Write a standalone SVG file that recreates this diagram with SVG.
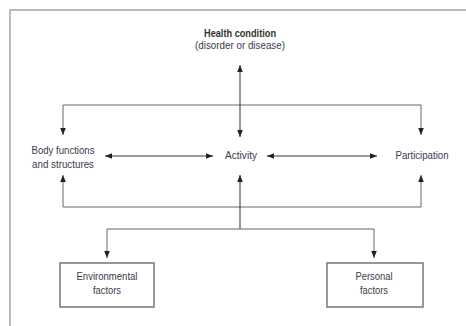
<svg xmlns="http://www.w3.org/2000/svg" width="466" height="326" viewBox="0 0 466 326">
<style>
.t{font-family:"Liberation Sans",Arial,sans-serif;font-size:10.5px;fill:#3a3a4c;text-anchor:middle}
.b{font-weight:bold;fill:#333}
.c{fill:none;stroke:#333;stroke-width:1}
.g{fill:none;stroke:#666;stroke-width:1}
.box{fill:#fff;stroke:#777;stroke-width:1.5}
</style>
<defs>
<marker id="ah" viewBox="0 0 10 10" refX="10" refY="5" markerWidth="8" markerHeight="7" markerUnits="userSpaceOnUse" orient="auto-start-reverse">
<path d="M0,1 L10,5 L0,9 z" fill="#222"/>
</marker>
</defs>
<rect x="0" y="0" width="466" height="326" fill="#fff"/>
<path d="M10,330 V10 H470" fill="none" stroke="#bbb" stroke-width="2"/>
<g id="connectors">
<path class="g" d="M63,135 V105 H421 V135" marker-start="url(#ah)" marker-end="url(#ah)"/>
<path class="c" d="M240,65 V137" marker-start="url(#ah)" marker-end="url(#ah)"/>
<path class="c" d="M105,156 H213" marker-start="url(#ah)" marker-end="url(#ah)"/>
<path class="c" d="M267,156 H377" marker-start="url(#ah)" marker-end="url(#ah)"/>
<path class="g" d="M63,175 V207 H421 V175" marker-start="url(#ah)" marker-end="url(#ah)"/>
<path class="c" d="M240,175 V229" marker-start="url(#ah)"/>
<path class="g" d="M107,258 V229 H374 V258" marker-start="url(#ah)" marker-end="url(#ah)"/>
</g>
<g id="health">
<text class="t b" x="240" y="37" textLength="72" lengthAdjust="spacingAndGlyphs">Health condition</text>
<text class="t" x="240" y="49" textLength="90" lengthAdjust="spacingAndGlyphs">(disorder or disease)</text>
</g>
<g id="body">
<text class="t" x="63" y="154" textLength="63" lengthAdjust="spacingAndGlyphs">Body functions</text>
<text class="t" x="63" y="168" textLength="62" lengthAdjust="spacingAndGlyphs">and structures</text>
</g>
<g id="activity">
<text class="t" x="241" y="159" textLength="32" lengthAdjust="spacingAndGlyphs">Activity</text>
</g>
<g id="participation">
<text class="t" x="422" y="159" textLength="53" lengthAdjust="spacingAndGlyphs">Participation</text>
</g>
<g id="environmental">
<rect class="box" x="60" y="263" width="94" height="44"/>
<text class="t" x="107" y="280" textLength="61" lengthAdjust="spacingAndGlyphs">Environmental</text>
<text class="t" x="107" y="294" textLength="28" lengthAdjust="spacingAndGlyphs">factors</text>
</g>
<g id="personal">
<rect class="box" x="327" y="263" width="96" height="44"/>
<text class="t" x="374" y="280" textLength="37" lengthAdjust="spacingAndGlyphs">Personal</text>
<text class="t" x="374" y="294" textLength="28" lengthAdjust="spacingAndGlyphs">factors</text>
</g>
</svg>
